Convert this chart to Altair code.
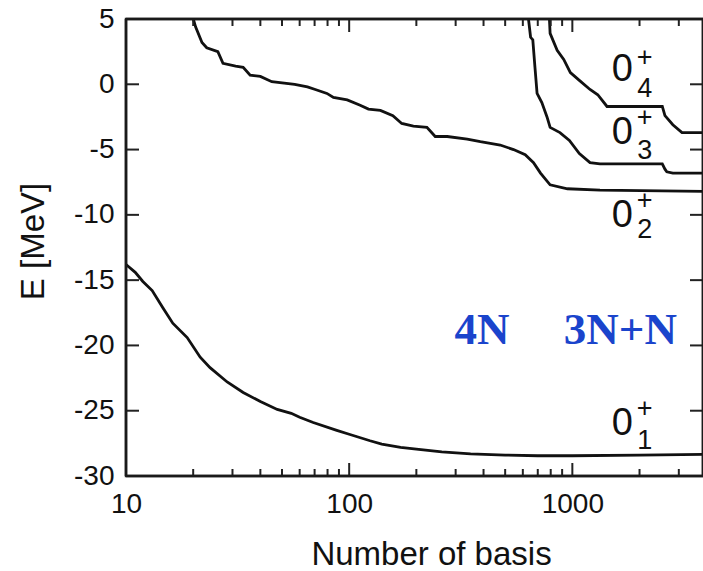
import altair as alt
import pandas as pd

# ---- data (Number of basis N, energy E in MeV) ----
n_g1 = [10, 11, 11.9, 13.1, 14.6, 16.2, 18.8, 21.5, 23.8, 28.4, 33.5, 40, 47.6, 55, 60, 69, 88, 100, 124, 140,
        170, 200, 260, 350, 500, 700, 1000, 2000, 3850]
e_g1 = [-13.8, -14.4, -15.1, -15.8, -17.1, -18.3, -19.4, -20.9, -21.7, -22.8, -23.6, -24.3, -24.9, -25.2, -25.5,
        -25.9, -26.5, -26.8, -27.3, -27.55, -27.8, -27.95, -28.15, -28.3, -28.4, -28.45, -28.45, -28.4, -28.35]

n_g2 = [19.8, 20.5, 21.9, 23, 25.8, 27.2, 31, 33.5, 36, 40, 45, 57, 65, 70.5, 79.5, 85, 98, 112, 122, 138, 157,
        172, 194, 223, 243, 275, 338, 387, 475, 545, 615, 670, 720, 795, 950, 1330, 3850]
e_g2 = [5.3, 4.4, 3.2, 2.8, 2.5, 1.6, 1.4, 1.3, 0.7, 0.6, 0.2, 0.0, -0.2, -0.4, -0.7, -1.0, -1.2, -1.6, -1.9, -2.0,
        -2.4, -3.0, -3.2, -3.3, -4.0, -4.0, -4.2, -4.4, -4.65, -5.0, -5.4, -6.0, -6.8, -7.7, -8.0, -8.1, -8.2]

n_g3 = [630, 636, 650, 665, 680, 695, 730, 770, 795, 880, 970, 1075, 1200, 1330, 2530, 2600, 2650, 2820, 3850]
e_g3 = [5.3, 5.0, 3.6, 3.4, 1.3, -0.7, -1.4, -2.5, -3.3, -3.7, -4.3, -5.3, -6.0, -6.1, -6.1, -6.5, -6.7, -6.8, -6.8]

n_g4 = [788, 795, 855, 915, 980, 1075, 1200, 1300, 1430, 2530, 2600, 2820, 3100, 3850]
e_g4 = [5.3, 3.9, 2.6, 1.9, 0.9, 0.3, -0.4, -0.8, -1.7, -1.7, -2.4, -3.1, -3.7, -3.7]

x_major = [10, 100, 1000]
x_minor = [20, 30, 40, 50, 60, 70, 80, 90, 200, 300, 400, 500, 600, 700, 800, 900, 2000, 3000]
y_ticks = [-30, -25, -20, -15, -10, -5, 0, 5]
x_range = [10, 3850]
y_range = [-30, 5]

# state labels 0^+_k : positions in data coordinates
lab_text = ["0", "+", "4", "0", "+", "3", "0", "+", "2", "0", "+", "1"]
lab_n = [1675, 2110, 2110] * 4
lab_e = [1.09, 2.0, -0.35, -3.73, -2.6, -5.1, -10.09, -8.95, -11.15, -26.02, -24.85, -27.3]
lab_fs = [38, 27, 27] * 4

blue_text = ["4N", "3N+N"]
blue_n = [394, 1641]
blue_e = [-18.82, -18.82]

# ---- build tables ----
frames = []
for name, n, e in [("g1", n_g1, e_g1), ("g2", n_g2, e_g2), ("g3", n_g3, e_g3), ("g4", n_g4, e_g4)]:
    frames.append(pd.DataFrame({"N": n, "E": e, "state": name, "i": range(len(n))}))
curves = pd.concat(frames, ignore_index=True)

W, H = 577, 457
FONT = "Liberation Sans"
xscale = alt.Scale(type="log", domain=x_range, nice=False)
yscale = alt.Scale(domain=y_range, nice=False, zero=False)

lines = alt.Chart(curves).mark_line(color="#111111", strokeWidth=2.8, clip=True).encode(
    x=alt.X("N:Q", scale=xscale,
            axis=alt.Axis(values=x_major, labelExpr="toString(datum.value)", tickSize=0, domain=False,
                          grid=False, labelFlush=False, labelOverlap=False,
                          labelFontSize=28, labelPadding=14, labelFont=FONT, labelColor="#111",
                          title="Number of basis", titleFont=FONT, titleFontSize=33,
                          titleFontWeight="normal", titleColor="#111", titleX=305, titleY=88,
                          titleBaseline="alphabetic", titleAlign="center")),
    y=alt.Y("E:Q", scale=yscale,
            axis=alt.Axis(values=y_ticks, labelExpr="toString(datum.value)", tickSize=0, domain=False,
                          grid=False, labelFlush=False, labelOverlap=False,
                          labelFontSize=28, labelPadding=12, labelFont=FONT, labelColor="#111",
                          title="E [MeV]", titleFont=FONT, titleFontSize=33,
                          titleFontWeight="normal", titleColor="#111", titleAngle=270,
                          titleX=-83, titleY=222, titleBaseline="alphabetic", titleAlign="center")),
    detail="state:N",
    order="i:Q",
)

xmaj = pd.DataFrame({"N": x_major})
xmin = pd.DataFrame({"N": x_minor})
yt = pd.DataFrame({"E": y_ticks})


def xtick(df, top, length, color="#222", sw=2.0):
    if top:
        enc = dict(y=alt.value(0), y2=alt.value(length))
    else:
        enc = dict(y=alt.value(H), y2=alt.value(H - length))
    return alt.Chart(df).mark_rule(color=color, strokeWidth=sw).encode(
        x=alt.X("N:Q", scale=xscale), **enc)


def ytick(df, right, length, color="#222", sw=2.0):
    if right:
        enc = dict(x=alt.value(W), x2=alt.value(W - length))
    else:
        enc = dict(x=alt.value(0), x2=alt.value(length))
    return alt.Chart(df).mark_rule(color=color, strokeWidth=sw).encode(
        y=alt.Y("E:Q", scale=yscale), **enc)


ticks = [xtick(xmaj, False, 13), xtick(xmaj, True, 13), xtick(xmin, False, 7), xtick(xmin, True, 7),
         ytick(yt, False, 13), ytick(yt, True, 13)]

# plot frame: rules at both ends of the two axis ranges, drawn across the whole plot
xr = pd.DataFrame({"N": x_range})
yr = pd.DataFrame({"E": y_range})
frame = [xtick(xr, False, H, "#1a1a1a", 2.6), ytick(yr, False, W, "#1a1a1a", 2.6)]

labs = pd.DataFrame({"N": lab_n, "E": lab_e, "t": lab_text, "fs": lab_fs})
state_labels = alt.Chart(labs).mark_text(font=FONT, color="#111", align="center", baseline="middle").encode(
    x=alt.X("N:Q", scale=xscale), y=alt.Y("E:Q", scale=yscale), text="t:N",
    size=alt.Size("fs:Q", scale=None, legend=None))

blues = pd.DataFrame({"N": blue_n, "E": blue_e, "t": blue_text})
blue_labels = alt.Chart(blues).mark_text(font="Liberation Serif", fontWeight="bold", fontSize=45,
                                         color="#1a44cc", align="center", baseline="middle").encode(
    x=alt.X("N:Q", scale=xscale), y=alt.Y("E:Q", scale=yscale), text="t:N")

chart = alt.layer(lines, *ticks, *frame, state_labels, blue_labels).properties(
    width=W, height=H,
    padding={"left": 126, "top": 19, "right": 0, "bottom": 95},
    autosize=alt.AutoSizeParams(type="none"),
).configure(background="white", view=alt.ViewConfig(stroke="#222", strokeWidth=2.4))

chart.save("out.html", embed_options={"renderer": "svg", "actions": False})
